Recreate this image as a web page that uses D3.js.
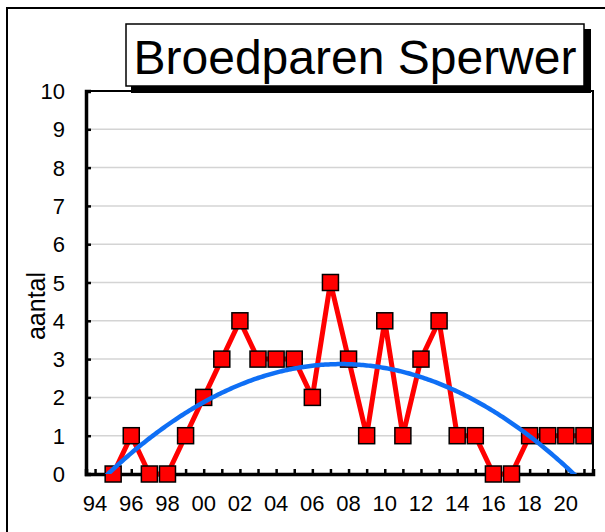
<!DOCTYPE html>
<html>
<head>
<meta charset="utf-8">
<script src="https://cdn.jsdelivr.net/npm/d3@7"></script>
<style>
  html, body { margin: 0; padding: 0; background: #fff; }
  svg { display: block; font-family: "Liberation Sans", Arial, sans-serif; }
</style>
</head>
<body>
<svg id="chart" width="605" height="532"></svg>
<script>
// Broedparen Sperwer per jaar
const years = [1995, 1996, 1997, 1998, 1999, 2000, 2001, 2002, 2003, 2004, 2005, 2006, 2007, 2008,
  2009, 2010, 2011, 2012, 2013, 2014, 2015, 2016, 2017, 2018, 2019, 2020, 2021];
const pairs = [0, 1, 0, 0, 1, 2, 3, 4, 3, 3, 3, 2, 5, 3,
  1, 4, 1, 3, 4, 1, 1, 0, 0, 1, 1, 1, 1];
const xTickYears = d3.range(1994, 2022);
const xLabelYears = d3.range(1994, 2021, 2);
const yTicks = d3.range(0, 11);
const title = "Broedparen Sperwer";
const yTitle = "aantal";

const svg = d3.select("#chart");
const plot = { left: 86, right: 593, top: 91, bottom: 474 };

const x = d3.scaleLinear().domain([1993.5, 2021.5]).range([plot.left, plot.right]);
const y = d3.scaleLinear().domain([0, 10]).range([plot.bottom, plot.top]);

// outer chart border
svg.append("rect")
  .attr("x", 7).attr("y", 8).attr("width", 620).attr("height", 540)
  .attr("fill", "#fff").attr("stroke", "#000").attr("stroke-width", 2);

// gridlines
svg.append("g")
  .selectAll("line")
  .data(yTicks.filter(d => d > 0 && d < 10))
  .join("line")
  .attr("x1", plot.left).attr("x2", plot.right)
  .attr("y1", d => y(d)).attr("y2", d => y(d))
  .attr("stroke", "#d4d4d4").attr("stroke-width", 1.5);

// plot frame (top + right)
svg.append("path")
  .attr("d", `M${plot.left},${plot.top}H${plot.right}V${plot.bottom}`)
  .attr("fill", "none").attr("stroke", "#000").attr("stroke-width", 2);

// y axis
const yAxis = svg.append("g")
  .attr("transform", `translate(${plot.left},0)`)
  .call(d3.axisRight(y).tickValues(yTicks).tickSize(5).tickFormat(""));
yAxis.select(".domain").attr("stroke-width", 3.5);
yAxis.selectAll(".tick line").attr("stroke-width", 2.5);

svg.append("g")
  .selectAll("text")
  .data(yTicks)
  .join("text")
  .attr("x", 65)
  .attr("y", d => y(d) + 8)
  .attr("text-anchor", "end")
  .attr("font-size", 22)
  .text(d => d);

// x axis
const xAxis = svg.append("g")
  .attr("transform", `translate(0,${plot.bottom})`)
  .call(d3.axisTop(x).tickValues(xTickYears).tickSize(5).tickFormat(""));
xAxis.select(".domain").attr("stroke-width", 3.5);
xAxis.selectAll(".tick line").attr("stroke-width", 2.5);

svg.append("g")
  .selectAll("text")
  .data(xLabelYears)
  .join("text")
  .attr("x", d => x(d))
  .attr("y", 511)
  .attr("text-anchor", "middle")
  .attr("font-size", 22)
  .text(d => String(d % 100).padStart(2, "0"));

// axis title
svg.append("text")
  .attr("transform", `translate(45,306) rotate(-90)`)
  .attr("text-anchor", "middle")
  .attr("font-size", 25)
  .text(yTitle);

// quadratic trendline (least squares on the data)
function polyFit2(xs, ys) {
  const m = d3.mean(xs);
  const t = xs.map(v => v - m);
  const S = k => d3.sum(t, v => v ** k);
  const Sy = k => d3.sum(t, (v, i) => v ** k * ys[i]);
  const A = [[xs.length, S(1), S(2)], [S(1), S(2), S(3)], [S(2), S(3), S(4)]];
  const B = [Sy(0), Sy(1), Sy(2)];
  for (let i = 0; i < 3; i++) {
    for (let j = i + 1; j < 3; j++) {
      const f = A[j][i] / A[i][i];
      for (let k = i; k < 3; k++) A[j][k] -= f * A[i][k];
      B[j] -= f * B[i];
    }
  }
  const c = [0, 0, 0];
  for (let i = 2; i >= 0; i--) {
    let s = B[i];
    for (let k = i + 1; k < 3; k++) s -= A[i][k] * c[k];
    c[i] = s / A[i][i];
  }
  return v => c[0] + c[1] * (v - m) + c[2] * (v - m) ** 2;
}
const trend = polyFit2(years, pairs);

svg.append("clipPath").attr("id", "plotclip")
  .append("rect")
  .attr("x", plot.left).attr("y", plot.top)
  .attr("width", plot.right - plot.left).attr("height", plot.bottom - plot.top);

// data line + markers
const data = years.map((yr, i) => ({ yr, v: pairs[i] }));
svg.append("path")
  .datum(data)
  .attr("fill", "none")
  .attr("stroke", "#ff0000")
  .attr("stroke-width", 5)
  .attr("stroke-linejoin", "miter")
  .attr("d", d3.line().x(d => x(d.yr)).y(d => y(d.v)));

svg.append("g")
  .selectAll("rect")
  .data(data)
  .join("rect")
  .attr("x", d => x(d.yr) - 8)
  .attr("y", d => y(d.v) - 8)
  .attr("width", 16).attr("height", 16)
  .attr("fill", "#ff0000")
  .attr("stroke", "#000")
  .attr("stroke-width", 1.5);

// trendline sits on top of the markers
const trendXs = d3.range(1993.5, 2021.51, 0.1);
svg.append("path")
  .datum(trendXs)
  .attr("clip-path", "url(#plotclip)")
  .attr("fill", "none")
  .attr("stroke", "#0f6ff5")
  .attr("stroke-width", 4.5)
  .attr("d", d3.line().x(d => x(d)).y(d => y(trend(d))));

// title box with shadow
svg.append("rect")
  .attr("x", 131).attr("y", 29).attr("width", 460).attr("height", 64)
  .attr("fill", "#000");
svg.append("rect")
  .attr("x", 126).attr("y", 24).attr("width", 458).attr("height", 62)
  .attr("fill", "#fff").attr("stroke", "#000").attr("stroke-width", 1.5);
svg.append("text")
  .attr("x", 355).attr("y", 74)
  .attr("text-anchor", "middle")
  .attr("font-size", 48)
  .text(title);
</script>
</body>
</html>
